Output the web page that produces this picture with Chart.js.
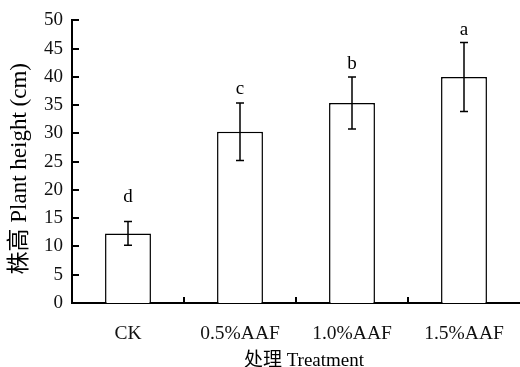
<!DOCTYPE html>
<html><head><meta charset="utf-8">
<script src="https://cdn.jsdelivr.net/npm/chart.js@4/dist/chart.umd.min.js"></script>
<style>html,body{margin:0;padding:0;background:#fff}canvas{display:block}</style>
</head><body>
<canvas id="c" width="520" height="367"></canvas>
<script>
const categories = ['CK', '0.5%AAF', '1.0%AAF', '1.5%AAF'];
const plantHeight = [12.3, 30.3, 35.4, 40.0];
const errorSE = [2.1, 5.1, 4.6, 6.1];
const letters = ['d', 'c', 'b', 'a'];
const letterAt = [17.8, 37.0, 41.4, 47.5];
const yTicks = [0, 5, 10, 15, 20, 25, 30, 35, 40, 45, 50];
const yTitle = '株高 Plant height (cm)';
const xTitle = '处理 Treatment';

const FONT = "'Liberation Serif', 'Noto Sans CJK SC', serif";

const extras = {
  id: 'extras',
  afterDatasetsDraw(chart) {
    const ctx = chart.ctx;
    const xs = chart.scales.x, ys = chart.scales.y;
    const ca = chart.chartArea;
    ctx.save();
    ctx.strokeStyle = '#000';
    ctx.fillStyle = '#000';
    // error bars
    ctx.lineWidth = 1.5;
    plantHeight.forEach((v, i) => {
      const x = xs.getPixelForValue(i);
      const yt = ys.getPixelForValue(v + errorSE[i]);
      const yb = ys.getPixelForValue(v - errorSE[i]);
      ctx.beginPath();
      ctx.moveTo(x, yt); ctx.lineTo(x, yb);
      ctx.moveTo(x - 4, yt); ctx.lineTo(x + 4, yt);
      ctx.moveTo(x - 4, yb); ctx.lineTo(x + 4, yb);
      ctx.stroke();
    });
    // letters
    ctx.font = '19px ' + FONT;
    ctx.textAlign = 'center';
    ctx.textBaseline = 'alphabetic';
    letters.forEach((t, i) => {
      ctx.fillText(t, xs.getPixelForValue(i), ys.getPixelForValue(letterAt[i]));
    });
    // y ticks (inward)
    ctx.lineWidth = 2;
    yTicks.forEach(v => {
      const y = Math.round(ys.getPixelForValue(v)) ;
      if (v === 0) return;
      ctx.beginPath();
      ctx.moveTo(ca.left, y); ctx.lineTo(ca.left + 7, y);
      ctx.stroke();
    });
    // x category boundary ticks (inward)
    for (let i = 1; i < categories.length; i++) {
      const x = Math.round((xs.getPixelForValue(i - 1) + xs.getPixelForValue(i)) / 2);
      ctx.beginPath();
      ctx.moveTo(x, ca.bottom); ctx.lineTo(x, ca.bottom - 6);
      ctx.stroke();
    }
    // titles
    ctx.font = '23px ' + FONT;
    ctx.textAlign = 'center';
    ctx.textBaseline = 'middle';
    ctx.save();
    ctx.translate(20, (ca.top + ca.bottom) / 2 + 7);
    ctx.rotate(-Math.PI / 2);
    ctx.fillText(yTitle, 0, 0);
    ctx.restore();
    ctx.font = '19px ' + FONT;
    ctx.fillText(xTitle, (ca.left + ca.right) / 2 + 8, ca.bottom + 58);
    ctx.restore();
  }
};

new Chart(document.getElementById('c'), {
  type: 'bar',
  data: {
    labels: categories,
    datasets: [{
      data: plantHeight,
      backgroundColor: '#ffffff',
      borderColor: '#000000',
      borderWidth: 1.5,
      barPercentage: 0.41,
      categoryPercentage: 1.0
    }]
  },
  options: {
    responsive: false,
    animation: false,
    devicePixelRatio: 1,
    layout: { padding: { top: 19, right: 0, left: 0, bottom: 0 } },
    plugins: { legend: { display: false }, tooltip: { enabled: false } },
    scales: {
      x: {
        grid: { display: false, drawTicks: false },
        border: { display: true, color: '#000', width: 2 },
        ticks: { color: '#111', font: { family: FONT, size: 19.5 }, padding: 19, maxRotation: 0 },
        afterFit(s) { s.height = 64; s.paddingLeft = 0; s.paddingRight = 0; }
      },
      y: {
        min: 0, max: 50,
        afterBuildTicks(s) { s.ticks = yTicks.map(v => ({ value: v })); },
        grid: { display: false, drawTicks: false },
        border: { display: true, color: '#000', width: 2 },
        ticks: { color: '#111', font: { family: FONT, size: 19 }, padding: 9 },
        afterFit(s) { s.width = 72; }
      }
    }
  },
  plugins: [extras]
});
</script>
</body></html>
